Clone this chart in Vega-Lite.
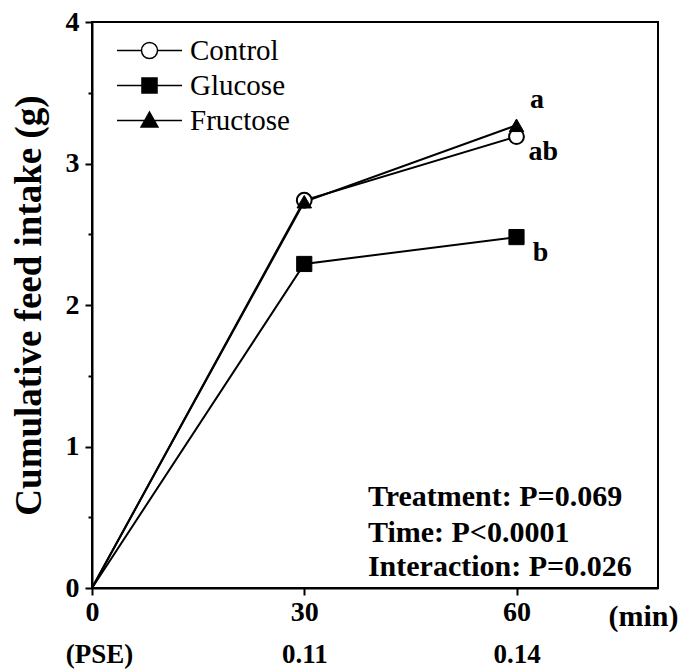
{
  "$schema": "https://vega.github.io/schema/vega-lite/v6.json",
  "width": 566,
  "height": 566,
  "autosize": {"type": "none"},
  "padding": {"left": 92, "top": 22, "right": 23, "bottom": 83},
  "background": "white",
  "config": {
    "view": {"stroke": "black", "strokeWidth": 2},
    "font": "Liberation Serif",
    "axis": {
      "grid": false,
      "domainColor": "black",
      "domainWidth": 2,
      "tickColor": "black",
      "tickWidth": 2,
      "labelColor": "black",
      "titleColor": "black",
      "labelFont": "Liberation Serif",
      "titleFont": "Liberation Serif",
      "labelFontWeight": "bold",
      "titleFontWeight": "bold"
    }
  },
  "datasets": {
    "intake": [
      {"series": "Control", "time": 0, "intake": 0},
      {"series": "Control", "time": 30, "intake": 2.74},
      {"series": "Control", "time": 60, "intake": 3.19},
      {"series": "Fructose", "time": 0, "intake": 0},
      {"series": "Fructose", "time": 30, "intake": 2.73},
      {"series": "Fructose", "time": 60, "intake": 3.27},
      {"series": "Glucose", "time": 0, "intake": 0},
      {"series": "Glucose", "time": 30, "intake": 2.29},
      {"series": "Glucose", "time": 60, "intake": 2.48}
    ],
    "letters": [
      {"label": "a", "time": 62.9, "intake": 3.45},
      {"label": "ab", "time": 63.8, "intake": 3.08},
      {"label": "b", "time": 63.4, "intake": 2.37}
    ],
    "stats": [
      {"label": "Treatment: P=0.069", "time": 39.0, "intake": 0.643},
      {"label": "Time: P<0.0001", "time": 39.0, "intake": 0.389},
      {"label": "Interaction: P=0.026", "time": 39.0, "intake": 0.148}
    ]
  },
  "resolve": {
    "axis": {"x": "independent", "y": "independent"}
  },
  "layer": [
    {
      "data": {"name": "intake"},
      "mark": {"type": "line", "stroke": "black", "strokeWidth": 2},
      "encoding": {
        "x": {
          "field": "time",
          "type": "quantitative",
          "scale": {"domain": [0, 80]},
          "axis": {
            "orient": "bottom",
            "values": [0, 30, 60],
            "labelFontSize": 28,
            "tickSize": 7,
            "labelPadding": 3,
            "labelFlush": false,
            "title": "(min)",
            "titleFontSize": 30,
            "titleX": 551,
            "titleY": 28,
            "titleAlign": "center",
            "titleBaseline": "middle",
            "titleAnchor": null
          }
        },
        "y": {
          "field": "intake",
          "type": "quantitative",
          "scale": {"domain": [0, 4]},
          "axis": {
            "orient": "left",
            "values": [0, 1, 2, 3, 4],
            "labelFontSize": 28,
            "tickSize": 7,
            "labelPadding": 6,
            "title": "Cumulative feed intake (g)",
            "titleFontSize": 37,
            "titlePadding": 17
          }
        },
        "detail": {"field": "series"},
        "order": {"field": "time"}
      }
    },
    {
      "data": {"name": "intake"},
      "transform": [{"filter": "datum.time > 0 && datum.series == 'Control'"}],
      "mark": {"type": "point", "shape": "circle", "filled": true, "fill": "white", "stroke": "black", "strokeWidth": 2, "size": 220, "opacity": 1},
      "encoding": {
        "x": {"field": "time", "type": "quantitative", "scale": {"domain": [0, 80]}, "axis": null},
        "y": {"field": "intake", "type": "quantitative", "scale": {"domain": [0, 4]}, "axis": null}
      }
    },
    {
      "data": {"name": "intake"},
      "transform": [{"filter": "datum.time > 0 && datum.series == 'Fructose'"}],
      "mark": {"type": "point", "shape": "triangle-up", "filled": true, "fill": "black", "stroke": "black", "strokeWidth": 1, "size": 210, "opacity": 1},
      "encoding": {
        "x": {"field": "time", "type": "quantitative", "scale": {"domain": [0, 80]}, "axis": null},
        "y": {"field": "intake", "type": "quantitative", "scale": {"domain": [0, 4]}, "axis": null}
      }
    },
    {
      "data": {"name": "intake"},
      "transform": [{"filter": "datum.time > 0 && datum.series == 'Glucose'"}],
      "mark": {"type": "point", "shape": "square", "filled": true, "fill": "black", "stroke": "black", "strokeWidth": 1, "size": 230, "opacity": 1},
      "encoding": {
        "x": {"field": "time", "type": "quantitative", "scale": {"domain": [0, 80]}, "axis": null},
        "y": {"field": "intake", "type": "quantitative", "scale": {"domain": [0, 4]}, "axis": null}
      }
    },
    {
      "data": {"name": "intake"},
      "transform": [{"filter": "datum.time < 0"}],
      "mark": {"type": "point", "filled": true, "stroke": "black", "strokeWidth": 2, "size": 256, "opacity": 1},
      "encoding": {
        "x": {"field": "time", "type": "quantitative", "scale": {"domain": [0, 80]}, "axis": null},
        "y": {"field": "intake", "type": "quantitative", "scale": {"domain": [0, 4]}, "axis": null},
        "shape": {
          "field": "series",
          "type": "nominal",
          "scale": {
            "domain": ["Control", "Glucose", "Fructose"],
            "range": [
              "M-4.06,0H-1M1,0H4.06M-1,0A1,1,0,1,0,1,0A1,1,0,1,0,-1,0Z",
              "M-4.06,0H4.06M-0.94,-0.94H0.94V0.94H-0.94Z",
              "M-4.06,0H4.06M0,-1.05L1.05,0.8H-1.05Z"
            ]
          },
          "legend": {
            "orient": "none",
            "legendX": 43,
            "legendY": 14,
            "title": null,
            "padding": 0,
            "labelFont": "Liberation Serif",
            "labelFontSize": 29,
            "labelColor": "black",
            "labelOffset": 26,
            "rowPadding": 5,
            "symbolSize": 256,
            "labelLimit": 300,
            "encode": {"symbols": {"update": {"stroke": {"value": "black"}, "strokeWidth": {"value": 2}}}}
          }
        },
        "fill": {
          "field": "series",
          "type": "nominal",
          "scale": {"domain": ["Control", "Glucose", "Fructose"], "range": ["white", "black", "black"]},
          "legend": {
            "orient": "none",
            "legendX": 43,
            "legendY": 14,
            "title": null,
            "padding": 0,
            "labelFont": "Liberation Serif",
            "labelFontSize": 29,
            "labelColor": "black",
            "labelOffset": 26,
            "rowPadding": 5,
            "symbolSize": 256,
            "labelLimit": 300,
            "encode": {"symbols": {"update": {"stroke": {"value": "black"}, "strokeWidth": {"value": 2}}}}
          }
        }
      }
    },
    {
      "data": {"name": "letters"},
      "mark": {"type": "text", "font": "Liberation Serif", "fontWeight": "bold", "fontSize": 28, "align": "center", "baseline": "middle", "color": "black"},
      "encoding": {
        "x": {
          "field": "time",
          "type": "quantitative",
          "scale": {"domain": [0, 80]},
          "axis": {
            "orient": "bottom",
            "values": [0, 30, 60],
            "labelExpr": "datum.value == 0 ? '(PSE)' : datum.value == 30 ? '0.11' : '0.14'",
            "domain": false,
            "ticks": false,
            "labelPadding": 53,
            "labelFontSize": 27,
            "labelFlush": false,
            "labelOffset": {"condition": {"test": "datum.value == 0", "value": 7}, "value": 0},
            "title": null
          }
        },
        "y": {
          "field": "intake",
          "type": "quantitative",
          "scale": {"domain": [0, 4]},
          "axis": {
            "orient": "left",
            "values": [0.5, 1.5, 2.5, 3.5],
            "labels": false,
            "domain": false,
            "tickSize": 4,
            "title": null
          }
        },
        "text": {"field": "label"}
      }
    },
    {
      "data": {"name": "stats"},
      "mark": {"type": "text", "font": "Liberation Serif", "fontWeight": "bold", "fontSize": 30, "align": "left", "baseline": "middle", "color": "black"},
      "encoding": {
        "x": {"field": "time", "type": "quantitative", "scale": {"domain": [0, 80]}, "axis": null},
        "y": {"field": "intake", "type": "quantitative", "scale": {"domain": [0, 4]}, "axis": null},
        "text": {"field": "label"}
      }
    }
  ]
}
